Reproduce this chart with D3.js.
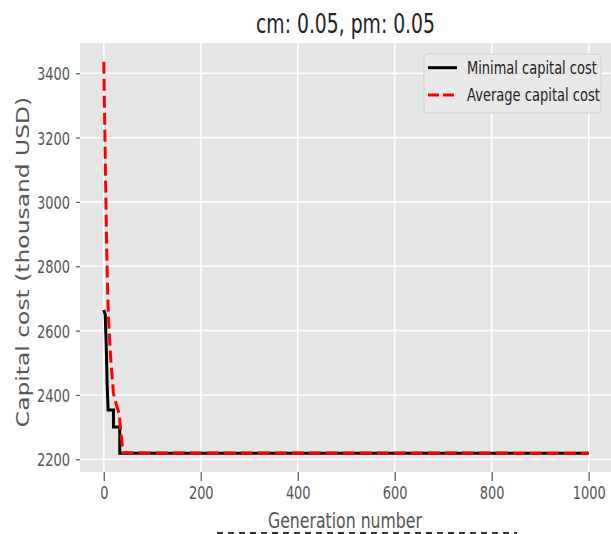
<!DOCTYPE html>
<html><head><meta charset="utf-8">
<script src="https://cdn.jsdelivr.net/npm/d3@7"></script>
<style>
body{margin:0;background:#fff;}
svg text{font-family:"DejaVu Sans",sans-serif;}
</style></head>
<body><svg id="c" width="611" height="534"></svg>
<script>
const titleText = "cm: 0.05, pm: 0.05";
const xLabel = "Generation number";
const yLabel = "Capital cost (thousand USD)";
const seriesNames = ["Minimal capital cost", "Average capital cost"];
const xTicks = [0, 200, 400, 600, 800, 1000];
const yTicks = [2200, 2400, 2600, 2800, 3000, 3200, 3400];
// generation, capital cost
const minGen  = [0, 3, 5, 7, 9, 20, 20, 33, 33, 1000];
const minCost = [2664, 2650, 2560, 2430, 2353, 2353, 2300, 2300, 2219, 2219];
const avgGen  = [0, 2, 4, 6, 8, 10, 14, 20, 26, 32, 36, 40, 1000];
const avgCost = [3436, 3240, 3045, 2860, 2720, 2630, 2520, 2405, 2370, 2340, 2270, 2220, 2219];

const svg = d3.select("#c");
const L = 80, R = 611, T = 43, B = 472;
const x = d3.scaleLinear().domain([-49, 1046]).range([L, R]);
const y = d3.scaleLinear().domain([2160.5, 3494]).range([B, T]);
const SQ = 0.72;

// horizontally condense a text with a transform (keeps its box honest)
function squeeze(sel, f){
  sel.each(function(){
    const t = d3.select(this);
    const x0 = +(t.attr("x")||0), y0 = +(t.attr("y")||0);
    t.attr("x",0).attr("y",0).attr("transform",`translate(${x0},${y0}) scale(${f},1)`);
  });
}
function fitTo(sel, w){
  sel.each(function(){
    const len = this.getComputedTextLength();
    d3.select(this).call(squeeze, w/len);
  });
}

svg.append("rect").attr("x",L).attr("y",T).attr("width",R-L).attr("height",B-T).attr("fill","#e5e5e5");

// grid
svg.append("g").selectAll("line").data(yTicks).join("line")
  .attr("x1",L).attr("x2",R).attr("y1",d=>y(d)).attr("y2",d=>y(d))
  .attr("stroke","#fff").attr("stroke-width",1.6);
svg.append("g").selectAll("line").data(xTicks).join("line")
  .attr("y1",T).attr("y2",B).attr("x1",d=>x(d)).attr("x2",d=>x(d))
  .attr("stroke","#fff").attr("stroke-width",1.6);

// y axis
const ya = svg.append("g").attr("transform",`translate(${L},0)`)
  .call(d3.axisLeft(y).tickValues(yTicks).tickSize(4).tickPadding(6).tickFormat(d3.format("d")));
ya.select(".domain").remove();
ya.selectAll(".tick line").attr("stroke","#555").attr("stroke-width",1.2);
ya.selectAll(".tick text").attr("fill","#555").attr("font-size",18).attr("font-family","DejaVu Sans").attr("dy","0.36em").call(squeeze, SQ);

// x axis
const xa = svg.append("g").attr("transform",`translate(0,${B})`)
  .call(d3.axisBottom(x).tickValues(xTicks).tickSize(9).tickPadding(5).tickFormat(d3.format("d")));
xa.select(".domain").remove();
xa.selectAll(".tick line").attr("stroke","#555").attr("stroke-width",1.2);
xa.selectAll(".tick text").attr("fill","#555").attr("font-size",18).attr("font-family","DejaVu Sans").attr("dy","0.71em").call(squeeze, SQ);

// lines
const line = d3.line().x(d=>x(d[0])).y(d=>y(d[1]));
const minData = minGen.map((g,i)=>[g,minCost[i]]);
const avgData = avgGen.map((g,i)=>[g,avgCost[i]]);
svg.append("path").datum(minData).attr("d",line).attr("fill","none")
  .attr("stroke","#000").attr("stroke-width",3).attr("stroke-linejoin","miter");
svg.append("path").datum(avgData).attr("d",line).attr("fill","none")
  .attr("stroke","#ff0000").attr("stroke-width",3).attr("stroke-dasharray","12,5");

// title
svg.append("text").attr("x",(L+R)/2).attr("y",33).attr("text-anchor","middle")
  .attr("font-size",27).attr("fill","#222").text(titleText).call(fitTo,179);

// x label
svg.append("text").attr("x",345).attr("y",528).attr("text-anchor","middle")
  .attr("font-size",21.6).attr("fill","#555").text(xLabel).call(fitTo,154);

// y label
svg.append("text").attr("transform",`translate(28.5,262) scale(0.77,1) rotate(-90)`)
  .attr("text-anchor","middle").attr("font-size",23.4).attr("fill","#555").text(yLabel);

// legend
const lg = svg.append("g");
lg.append("rect").attr("x",424).attr("y",54).attr("width",177).attr("height",59).attr("rx",3)
  .attr("fill","#e8e8e8").attr("stroke","#cfcfcf").attr("stroke-width",1);
const legendItems = [
  {name: seriesNames[0], color:"#000", dash:null, yy:67.7, w:130},
  {name: seriesNames[1], color:"#ff0000", dash:"11,4", yy:95, w:133}
];
legendItems.forEach(it=>{
  lg.append("line").attr("x1",428).attr("x2",457).attr("y1",it.yy).attr("y2",it.yy)
    .attr("stroke",it.color).attr("stroke-width",3).attr("stroke-dasharray",it.dash);
  lg.append("text").attr("x",467).attr("y",it.yy+6).attr("font-size",18).attr("fill","#222")
    .text(it.name).call(fitTo,it.w);
});

// bottom artifact (clipped text remnant)
svg.append("line").attr("x1",217).attr("x2",517).attr("y1",533).attr("y2",533)
  .attr("stroke","#333").attr("stroke-width",2).attr("stroke-dasharray","6,5");
</script></body></html>
